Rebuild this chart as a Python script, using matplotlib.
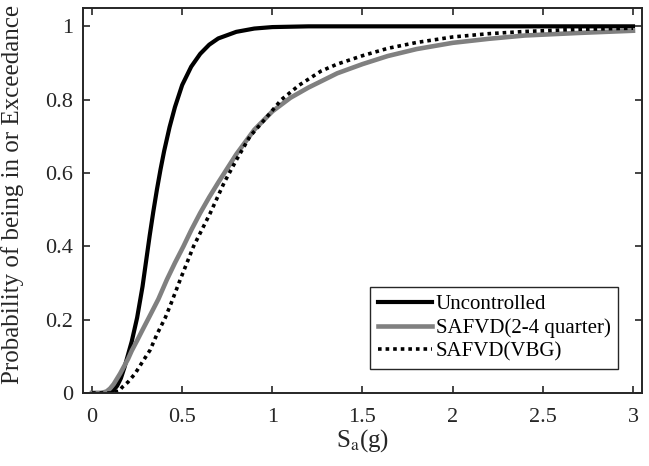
import matplotlib
matplotlib.use("Agg")
import matplotlib.pyplot as plt

# Fragility curves
sa_unc = [0, 0.08, 0.1, 0.12, 0.14, 0.16, 0.18, 0.2, 0.22, 0.25, 0.28, 0.3, 0.32, 0.34,
          0.36, 0.38, 0.4, 0.43, 0.46, 0.5, 0.55, 0.6, 0.65, 0.7, 0.8, 0.9, 1.0, 1.2, 3.0]
p_unc = [0, 0, 0.002, 0.008, 0.02, 0.04, 0.07, 0.105, 0.14, 0.205, 0.29, 0.36, 0.43, 0.495,
         0.555, 0.61, 0.66, 0.725, 0.78, 0.84, 0.89, 0.925, 0.95, 0.967, 0.985, 0.994, 0.998, 1.0, 1.0]

sa_quarter = [0, 0.05, 0.08, 0.1, 0.12, 0.156, 0.2, 0.22, 0.25, 0.28, 0.32, 0.368, 0.415, 0.46, 0.507,
              0.55, 0.6, 0.65, 0.7, 0.8, 0.9, 1.0, 1.1, 1.2, 1.27, 1.36, 1.5, 1.64, 1.8, 2.0,
              2.2, 2.4, 2.7, 3.0]
p_quarter = [0, 0, 0.004, 0.012, 0.024, 0.053, 0.093, 0.115, 0.143, 0.172, 0.21, 0.256, 0.309, 0.355, 0.4,
             0.444, 0.491, 0.534, 0.574, 0.651, 0.718, 0.768, 0.805, 0.833, 0.85, 0.872, 0.897, 0.919, 0.938, 0.955,
             0.966, 0.975, 0.982, 0.988]

sa_vbg = [0, 0.1, 0.15, 0.168, 0.2, 0.239, 0.28, 0.322, 0.36, 0.406, 0.439, 0.489, 0.563, 0.656,
          0.733, 0.8, 0.876, 0.965, 1.05, 1.15, 1.27, 1.36, 1.5, 1.64, 1.8, 2.0, 2.2, 2.4, 2.7, 3.0]
p_vbg = [0, 0, 0.005, 0.016, 0.03, 0.053, 0.085, 0.117, 0.16, 0.205, 0.245, 0.309, 0.4, 0.491,
         0.574, 0.635, 0.7, 0.75, 0.80, 0.84, 0.878, 0.897, 0.92, 0.94, 0.956, 0.971, 0.98, 0.986, 0.992, 0.995]

labels = ["Uncontrolled", "SAFVD(2-4 quarter)", "SAFVD(VBG)"]
x_ticks = [0, 0.5, 1, 1.5, 2, 2.5, 3]
y_ticks = [0, 0.2, 0.4, 0.6, 0.8, 1]

plt.rcParams["font.family"] = ["Liberation Serif", "DejaVu Serif"]
plt.rcParams["mathtext.fontset"] = "stix"

fig = plt.figure(figsize=(6.49, 4.66), dpi=100)
ax = fig.add_axes([0.1279, 0.1567, 0.8613, 0.8261])

ax.plot(sa_unc, p_unc, color="black", lw=3.0, label=labels[0])
ax.plot(sa_quarter, p_quarter, color="#808080", lw=3.3, label=labels[1])
ax.plot(sa_vbg, p_vbg, color="black", lw=2.6, linestyle=(0, (1, 1.1)), label=labels[2])

ax.set_xlim(-0.05, 3.05)
ax.set_ylim(0, 1.05)
ax.set_xticks(x_ticks)
ax.set_xticklabels([f"{t:g}" for t in x_ticks])
ax.set_yticks(y_ticks)
ax.set_yticklabels([f"{t:g}" for t in y_ticks])

ax.tick_params(direction="in", length=5, width=1.2, colors="#262626",
               top=True, right=True, labelsize=16, labelcolor="#262626")
ax.tick_params(axis="x", pad=11)
ax.tick_params(axis="y", pad=7)
for s in ax.spines.values():
    s.set_linewidth(1.4)
    s.set_color("#262626")

ax.set_xlabel(r"S$_\mathrm{a}$(g)", fontsize=18, color="#262626", labelpad=0)
ax.set_ylabel("Probability of being in or Exceedance", fontsize=18, color="#262626")
ax.yaxis.set_label_coords(-0.106, 0.515)

leg = ax.legend(loc="lower right", fontsize=15, handlelength=2.6, fancybox=False,
                edgecolor="#262626", borderaxespad=1.15, borderpad=0.35,
                labelspacing=0.2, handletextpad=0.2, framealpha=1)
leg.get_frame().set_linewidth(1.0)

fig.savefig("out.png", dpi=100)
